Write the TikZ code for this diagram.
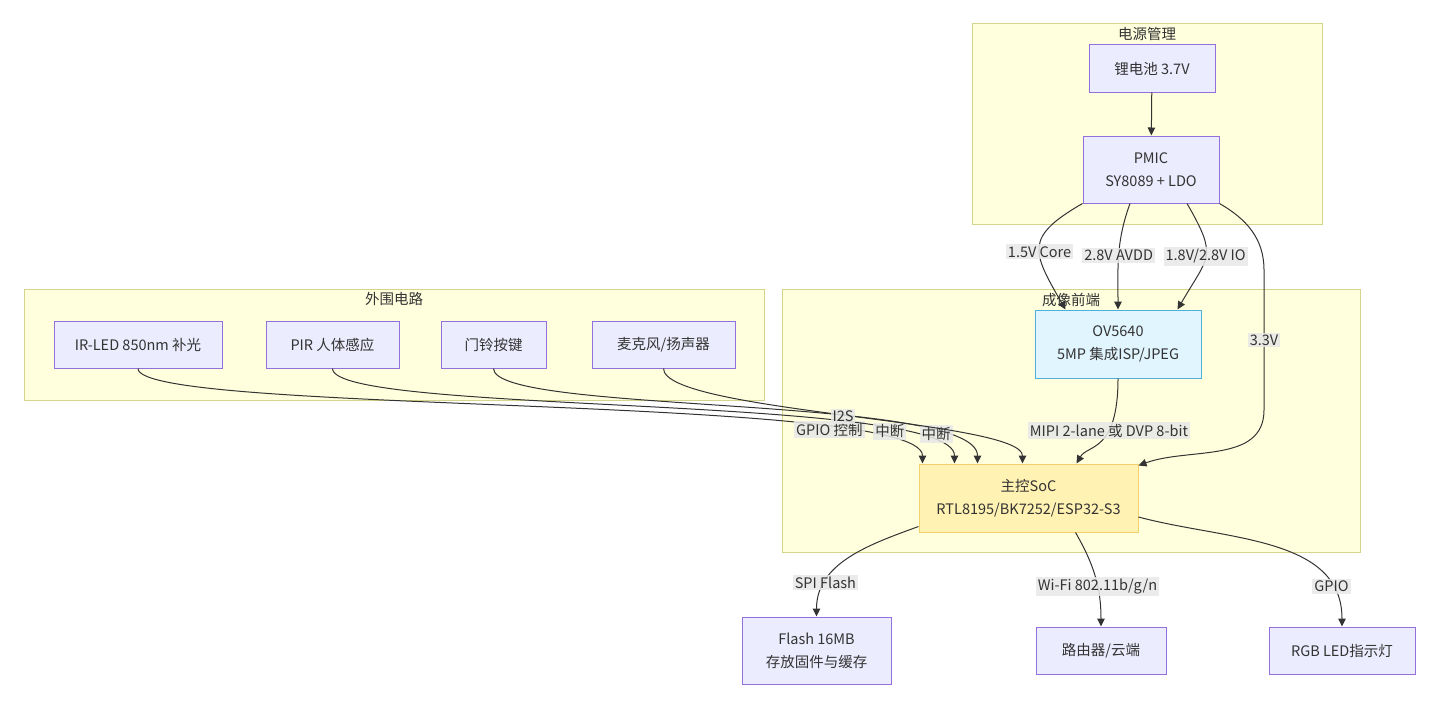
\documentclass[tikz,border=0pt]{standalone}
\usepackage{fontspec}
\setmainfont{Noto Sans CJK SC}
\usetikzlibrary{arrows.meta,positioning}
\definecolor{ink}{HTML}{333333}
\definecolor{clusterfill}{HTML}{FFFFDE}
\definecolor{clusterline}{HTML}{D4D48A}
\definecolor{nodefill}{HTML}{ECECFF}
\definecolor{nodeline}{HTML}{9370DB}
\definecolor{camfill}{HTML}{E1F5FE}
\definecolor{camline}{HTML}{4FB0DE}
\definecolor{socfill}{HTML}{FFF2B3}
\definecolor{socline}{HTML}{F2D06B}
\definecolor{labelbg}{HTML}{E8E8E8}
\newcommand{\dfont}{\fontsize{14.5}{23}\selectfont}
\tikzset{
  >={Triangle[length=8pt,width=7.5pt]}, % mermaid style heads
  cluster/.style={draw=clusterline, fill=clusterfill, line width=1pt, inner sep=0pt},
  block/.style={draw=nodeline, fill=nodefill, line width=1pt, align=center, inner sep=0pt},
  cambox/.style={block, draw=camline, fill=camfill},
  socbox/.style={block, draw=socline, fill=socfill},
  wire/.style={color=ink, line width=1pt},
  wirelabel/.style={fill=labelbg, fill opacity=0.85, text opacity=1, inner sep=2pt},
}

\begin{document}
\begin{tikzpicture}[x=1pt,y=-1pt,font=\dfont,text=ink]
    \useasboundingbox (0,0) rectangle (1440,709);
    % subgraphs
    \node[cluster, minimum width=350, minimum height=200] (power) at (1147,124) {};
    \node[cluster, minimum width=740, minimum height=111] (periph) at (394,344.5) {};
    \node[cluster, minimum width=578, minimum height=263] (front) at (1071,420.5) {};
    \node (powertitle) at (1147,34) {电源管理};
    \node (periphtitle) at (394,299) {外围电路};
    \node (fronttitle) at (1071,300) {成像前端};
    % blocks
    \node[block, minimum width=126, minimum height=47] (batt) at (1152,68.5) {锂电池 3.7V};
    \node[block, minimum width=136, minimum height=67] (pmic) at (1151,169.5) {PMIC\\SY8089 + LDO};
    \node[cambox, minimum width=166, minimum height=68] (cam) at (1118,344) {OV5640\\5MP 集成ISP/JPEG};
    \node[socbox, minimum width=219, minimum height=68] (soc) at (1028.5,498) {主控SoC\\RTL8195/BK7252/ESP32-S3};
    \node[block, minimum width=168, minimum height=47] (irled) at (138,344.5) {IR-LED 850nm 补光};
    \node[block, minimum width=133, minimum height=47] (pir) at (332.5,344.5) {PIR 人体感应};
    \node[block, minimum width=105, minimum height=47] (bell) at (493.5,344.5) {门铃按键};
    \node[block, minimum width=143, minimum height=47] (audio) at (663.5,344.5) {麦克风/扬声器};
    \node[block, minimum width=149, minimum height=67] (flash) at (816.5,650.5) {Flash 16MB\\存放固件与缓存};
    \node[block, minimum width=130, minimum height=47] (router) at (1101,650.5) {路由器/云端};
    \node[block, minimum width=146, minimum height=47] (rgb) at (1342,650.5) {RGB LED指示灯};
    \coordinate (railtop) at (1264,270);
    \coordinate (railbot) at (1264,410);

    \path[wire,->]
    (batt) edge (pmic)
    (pmic.south west) edge[out=-150, in=120, looseness=1.6] node[wirelabel, pos=0.55] {1.5V Core} ([xshift=31]cam.north west)
    ([xshift=-21]pmic.south) edge[out=-110, in=90] node[wirelabel] {2.8V AVDD} (cam.north)
    ([xshift=36]pmic.south) edge[out=-60, in=60, looseness=1.5] node[wirelabel] {1.8V/2.8V IO} ([xshift=-24]cam.north east)
    (cam.south) edge[out=-90, in=60, out looseness=2, in looseness=0.6] node[wirelabel, pos=0.35] {MIPI 2-lane 或 DVP 8-bit} ([xshift=48]soc.north)
    (irled.south) edge[out=-90, in=90, out looseness=0.15, in looseness=0.226] node[wirelabel, pos=0.785] {GPIO 控制} ([xshift=4]soc.north west)
    (pir.south) edge[out=-90, in=90, out looseness=0.19, in looseness=0.284] node[wirelabel, pos=0.8] {中断} ([xshift=36]soc.north west)
    (bell.south) edge[out=-90, in=90, out looseness=0.24, in looseness=0.36] node[wirelabel, pos=0.82] {中断} ([xshift=59]soc.north west)
    (audio.south) edge[out=-90, in=90, looseness=0.3] node[wirelabel, pos=0.5] {I2S} ([xshift=-6]soc.north)
    ([yshift=6]soc.south west) edge[out=-160, in=90] node[wirelabel, pos=0.75] {SPI Flash} (flash.north)
    ([xshift=47]soc.south) edge[out=-60, in=90] node[wirelabel, pos=0.6] {Wi-Fi 802.11b/g/n} (router.north)
    ([yshift=-19]soc.east) edge[out=-15, in=90] node[wirelabel, pos=0.82] {GPIO} (rgb.north);

    \draw[wire,->] (pmic.south east) to[out=-30, in=90] (railtop)
        -- node[wirelabel] {3.3V} (railbot)
        to[out=-90, in=20] ([yshift=-2]soc.north east);
\end{tikzpicture}
\end{document}
